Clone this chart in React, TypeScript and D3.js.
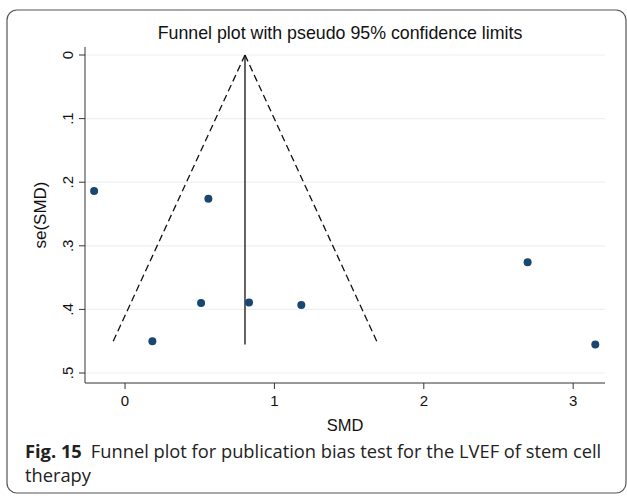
import React from "react";
import * as d3 from "d3";

const studySMD = [-0.207, 0.558, 0.183, 0.509, 0.83, 1.18, 2.695, 3.148];
const studySE = [0.214, 0.226, 0.45, 0.39, 0.389, 0.393, 0.326, 0.455];
const pooledSMD = [0.803];
const xTickValues = [0, 1, 2, 3];
const xTickLabels = ["0", "1", "2", "3"];
const yTickValues = [0, 0.1, 0.2, 0.3, 0.4, 0.5];
const yTickLabels = ["0", ".1", ".2", ".3", ".4", ".5"];
const titleText = "Funnel plot with pseudo 95% confidence limits";
const xTitle = "SMD";
const yTitle = "se(SMD)";
const captionBold = "Fig. 15";
const captionLine1 = "Funnel plot for publication bias test for the LVEF of stem cell";
const captionLine2 = "therapy";

const W = 627;
const H = 496;
const L = 85, R = 605, T = 47, B = 383;

export default function App() {
  const x = d3.scaleLinear().domain([-0.268, 3.213]).range([L, R]);
  const y = d3.scaleLinear().domain([-0.0126, 0.5157]).range([T, B]);
  const theta = pooledSMD[0];
  const seMax = d3.max(studySE) as number;
  const z = 1.96;
  const line = d3
    .line<[number, number]>()
    .x((d) => x(d[0]))
    .y((d) => y(d[1]));
  const leftLimit: [number, number][] = [
    [theta, 0],
    [theta - z * seMax, seMax],
  ];
  const rightLimit: [number, number][] = [
    [theta, 0],
    [theta + z * seMax, seMax],
  ];
  const centre: [number, number][] = [
    [theta, 0],
    [theta, seMax],
  ];
  const axisFont = "'Liberation Sans', Arial, sans-serif";
  return (
    <svg
      width={W}
      height={H}
      style={{ position: "absolute", left: 0, top: 0, background: "#fff" }}
    >
      <rect
        x={7}
        y={10}
        width={619}
        height={483}
        rx={10}
        ry={10}
        fill="#fff"
        stroke="#555"
        strokeWidth={1.2}
      />
      <text
        x={340}
        y={39}
        textAnchor="middle"
        fontFamily={axisFont}
        fontSize={17.8}
        fill="#111"
      >
        {titleText}
      </text>
      {yTickValues.map((v) => (
        <line
          key={"g" + v}
          x1={L}
          x2={R}
          y1={y(v)}
          y2={y(v)}
          stroke="#eaf2f3"
          strokeWidth={1.2}
        />
      ))}
      <line x1={L} x2={L} y1={T} y2={B} stroke="#333" strokeWidth={1} />
      <line x1={L} x2={R} y1={B} y2={B} stroke="#333" strokeWidth={1} />
      {yTickValues.map((v, i) => (
        <g key={"yt" + v}>
          <line x1={L - 6} x2={L} y1={y(v)} y2={y(v)} stroke="#333" />
          <text
            transform={`translate(${L - 12},${y(v)}) rotate(-90)`}
            textAnchor="middle"
            fontFamily={axisFont}
            fontSize={15}
            fill="#111"
          >
            {yTickLabels[i]}
          </text>
        </g>
      ))}
      {xTickValues.map((v, i) => (
        <g key={"xt" + v}>
          <line x1={x(v)} x2={x(v)} y1={B} y2={B + 6} stroke="#333" />
          <text
            x={x(v)}
            y={406}
            textAnchor="middle"
            fontFamily={axisFont}
            fontSize={15}
            fill="#111"
          >
            {xTickLabels[i]}
          </text>
        </g>
      ))}
      <text
        x={(L + R) / 2}
        y={430.5}
        textAnchor="middle"
        fontFamily={axisFont}
        fontSize={16.5}
        fill="#111"
      >
        {xTitle}
      </text>
      <text
        transform={`translate(46,${(T + B) / 2}) rotate(-90)`}
        textAnchor="middle"
        fontFamily={axisFont}
        fontSize={17}
        fill="#111"
      >
        {yTitle}
      </text>
      <path d={line(leftLimit) || ""} fill="none" stroke="#111" strokeWidth={1.3} strokeDasharray="7,4" />
      <path d={line(rightLimit) || ""} fill="none" stroke="#111" strokeWidth={1.3} strokeDasharray="7,4" />
      <path d={line(centre) || ""} fill="none" stroke="#111" strokeWidth={1.3} />
      {studySMD.map((v, i) => (
        <circle key={"p" + i} cx={x(v)} cy={y(studySE[i])} r={4} fill="#1a476f" />
      ))}
      <text x={25} y={457.5} fontFamily="'Open Sans', sans-serif" fontSize={18.3} fill="#222">
        <tspan fontWeight="bold">{captionBold}</tspan>
        <tspan dx={9}>{captionLine1}</tspan>
      </text>
      <text x={25} y={481.5} fontFamily="'Open Sans', sans-serif" fontSize={18.3} fill="#222">
        {captionLine2}
      </text>
    </svg>
  );
}
